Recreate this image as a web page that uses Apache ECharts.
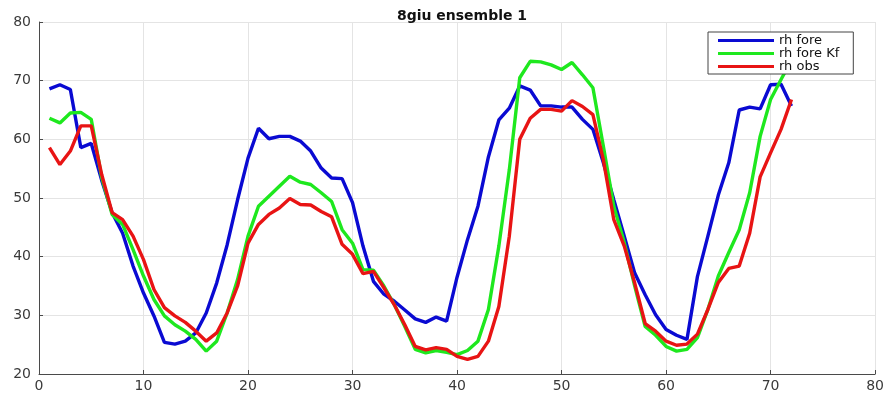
<!DOCTYPE html>
<html>
<head>
<meta charset="utf-8">
<script src="https://cdn.jsdelivr.net/npm/echarts@6/dist/echarts.min.js"></script>
<style>
  html, body { margin: 0; padding: 0; background: #ffffff; }
  #chart { width: 887px; height: 394px; }
</style>
</head>
<body>
<div id="chart"></div>
<script>
// Forecast hour index
const hours = [1,2,3,4,5,6,7,8,9,10,11,12,13,14,15,16,17,18,19,20,21,22,23,24,
  25,26,27,28,29,30,31,32,33,34,35,36,37,38,39,40,41,42,43,44,45,46,47,48,
  49,50,51,52,53,54,55,56,57,58,59,60,61,62,63,64,65,66,67,68,69,70,71,72];

// Relative humidity (%): raw forecast
const rhFore = [68.6,69.3,68.5,58.6,59.3,53,47.5,44,38.4,33.8,29.9,25.4,25.1,25.6,27,30.4,
  35.5,42,49.7,56.8,61.9,60.1,60.5,60.5,59.7,58,55.1,53.4,53.3,49.2,41.8,35.8,
  33.6,32.4,30.9,29.4,28.8,29.7,29,36.5,42.9,48.6,57,63.3,65.3,69.1,68.4,65.7,
  65.7,65.5,65.5,63.4,61.7,56,49.7,43.5,37.2,33.5,30.1,27.6,26.6,25.9,36.6,43.5,
  50.5,56,65,65.5,65.2,69.3,69.4,65.7];

// Relative humidity (%): Kalman-filtered forecast
const rhForeKf = [63.6,62.8,64.5,64.6,63.4,53.5,47.2,45.5,41.2,36.7,32.7,29.9,28.4,27.3,25.9,23.9,
  25.6,30.4,36.1,43.5,48.6,50.3,52,53.7,52.7,52.3,50.9,49.4,44.6,42.3,37.8,37.7,
  35,31.8,28.1,24.2,23.6,24,23.7,23.3,24,25.6,31,41.8,54.8,70.5,73.3,73.2,
  72.7,71.9,73.1,71,68.8,58.8,48.6,42.4,35,28.1,26.6,24.7,23.9,24.2,26.2,31,
  36.7,40.7,44.6,50.9,60.5,66.8,70.2,73.5];

// Relative humidity (%): observed
const rhObs = [58.6,55.7,58,62.3,62.3,54,47.5,46.3,43.5,39.5,34.4,31.3,29.9,28.8,27.3,25.6,
  27,30.4,35,42.3,45.5,47.2,48.3,49.9,48.9,48.8,47.7,46.8,42.1,40.4,37.1,37.5,
  34.7,31.8,28.4,24.7,24.1,24.5,24.2,23,22.5,23,25.6,31.5,43.5,60,63.6,65.1,
  65.1,64.8,66.6,65.6,64.2,56.5,46.3,41.8,35.5,28.6,27.3,25.6,24.9,25.1,26.8,31,
  35.6,38,38.4,44,53.6,57.7,61.7,66.8];

const seriesNames = ['rh fore', 'rh fore Kf', 'rh obs'];
const seriesColors = ['#0a0ad2', '#1ee81e', '#e81414'];

function pairs(xs, ys) {
  return xs.map((x, i) => [x, ys[i]]);
}

const chart = echarts.init(document.getElementById('chart'), null, { renderer: 'canvas' });

const FONT = 'DejaVu Sans, Verdana, sans-serif';

const axisLabelStyle = {
  color: '#3a3a3a',
  fontSize: 14,
  fontFamily: FONT
};

const option = {
  backgroundColor: '#ffffff',
  animation: false,
  title: {
    text: '8giu ensemble 1',
    left: 457,
    textAlign: 'center',
    top: 4,
    textStyle: {
      fontFamily: FONT,
      fontWeight: 'bold',
      fontSize: 14,
      color: '#111111'
    }
  },
  grid: { left: 39, right: 11, top: 22, bottom: 20, containLabel: false },
  legend: {
    orient: 'vertical',
    left: 708,
    top: 32,
    padding: [2, 14, 1, 10],
    itemGap: 0,
    itemWidth: 56,
    itemHeight: 3,
    icon: 'rect',
    backgroundColor: '#ffffff',
    borderColor: '#444444',
    borderWidth: 1,
    borderRadius: 0,
    data: seriesNames,
    textStyle: {
      fontFamily: FONT,
      fontSize: 13,
      lineHeight: 10,
      height: 12.5,
      color: '#111111'
    }
  },
  xAxis: {
    type: 'value',
    min: 0,
    max: 80,
    interval: 10,
    axisLine: { show: true, lineStyle: { color: '#4a4a4a', width: 1 } },
    axisTick: { show: true, inside: true, length: 4, lineStyle: { color: '#4a4a4a' } },
    axisLabel: Object.assign({ margin: 5 }, axisLabelStyle),
    splitLine: { show: true, lineStyle: { color: '#e4e4e4', width: 1 } }
  },
  yAxis: {
    type: 'value',
    min: 20,
    max: 80,
    interval: 10,
    axisLine: { show: true, lineStyle: { color: '#4a4a4a', width: 1 } },
    axisTick: { show: true, inside: true, length: 4, lineStyle: { color: '#4a4a4a' } },
    axisLabel: Object.assign({ margin: 8 }, axisLabelStyle),
    splitLine: { show: true, lineStyle: { color: '#e4e4e4', width: 1 } }
  },
  series: [rhFore, rhForeKf, rhObs].map((vals, i) => ({
    name: seriesNames[i],
    type: 'line',
    data: pairs(hours, vals),
    showSymbol: false,
    symbol: 'none',
    color: seriesColors[i],
    lineStyle: { color: seriesColors[i], width: 3.4 },
    z: 2 + i
  }))
};

chart.setOption(option);
</script>
</body>
</html>
